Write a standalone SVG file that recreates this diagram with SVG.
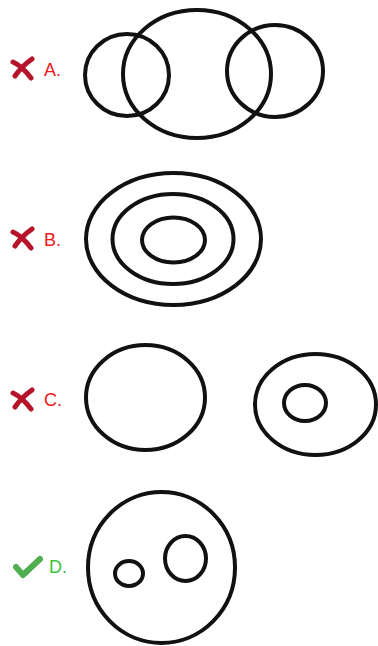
<svg xmlns="http://www.w3.org/2000/svg" width="378" height="646" viewBox="0 0 378 646">
<style>
.c{fill:none;stroke:#111;stroke-width:4}
.lbl{font-family:"Liberation Sans",Arial,sans-serif;font-size:18px}
.bad{fill:#f01818}
.good{fill:#3cc23c}
.x{fill:none;stroke:#b5142a;stroke-width:5;stroke-linecap:round}
.chk{fill:none;stroke:#4fae4f;stroke-width:6;stroke-linecap:round;stroke-linejoin:round}
</style>
<defs>
<g id="xmark">
<path class="x" d="M13 62 Q22 66 31 78"/>
<path class="x" d="M32 59 Q22 66 15 76"/>
</g>
</defs>
<rect width="378" height="646" fill="#fff"/>
<g id="optA">
<use href="#xmark"/>
<text class="lbl bad" x="44" y="76">A.</text>
<ellipse class="c" cx="127" cy="75" rx="42" ry="41"/>
<ellipse class="c" cx="197" cy="74" rx="74" ry="64"/>
<ellipse class="c" cx="275" cy="71" rx="48" ry="46"/>
</g>
<g id="optB">
<use href="#xmark" y="170"/>
<text class="lbl bad" x="44" y="246">B.</text>
<ellipse class="c" cx="173.5" cy="239" rx="87.5" ry="66"/>
<ellipse class="c" cx="173" cy="239" rx="60.5" ry="45"/>
<ellipse class="c" cx="173.5" cy="240" rx="31.5" ry="22.5"/>
</g>
<g id="optC">
<use href="#xmark" y="331"/>
<text class="lbl bad" x="44" y="406">C.</text>
<ellipse class="c" cx="145.5" cy="397.5" rx="59.5" ry="52.5"/>
<ellipse class="c" cx="315.5" cy="404.5" rx="60.5" ry="50.5"/>
<ellipse class="c" cx="305" cy="403" rx="21" ry="18"/>
</g>
<g id="optD">
<path class="chk" d="M16 567 L23 575 L40 559"/>
<text class="lbl good" x="49" y="573">D.</text>
<ellipse class="c" cx="161.5" cy="567.5" rx="73.5" ry="75.5"/>
<ellipse class="c" cx="129" cy="573.5" rx="14" ry="12.5"/>
<ellipse class="c" cx="185.5" cy="558.5" rx="20.5" ry="22.5"/>
</g>
</svg>
